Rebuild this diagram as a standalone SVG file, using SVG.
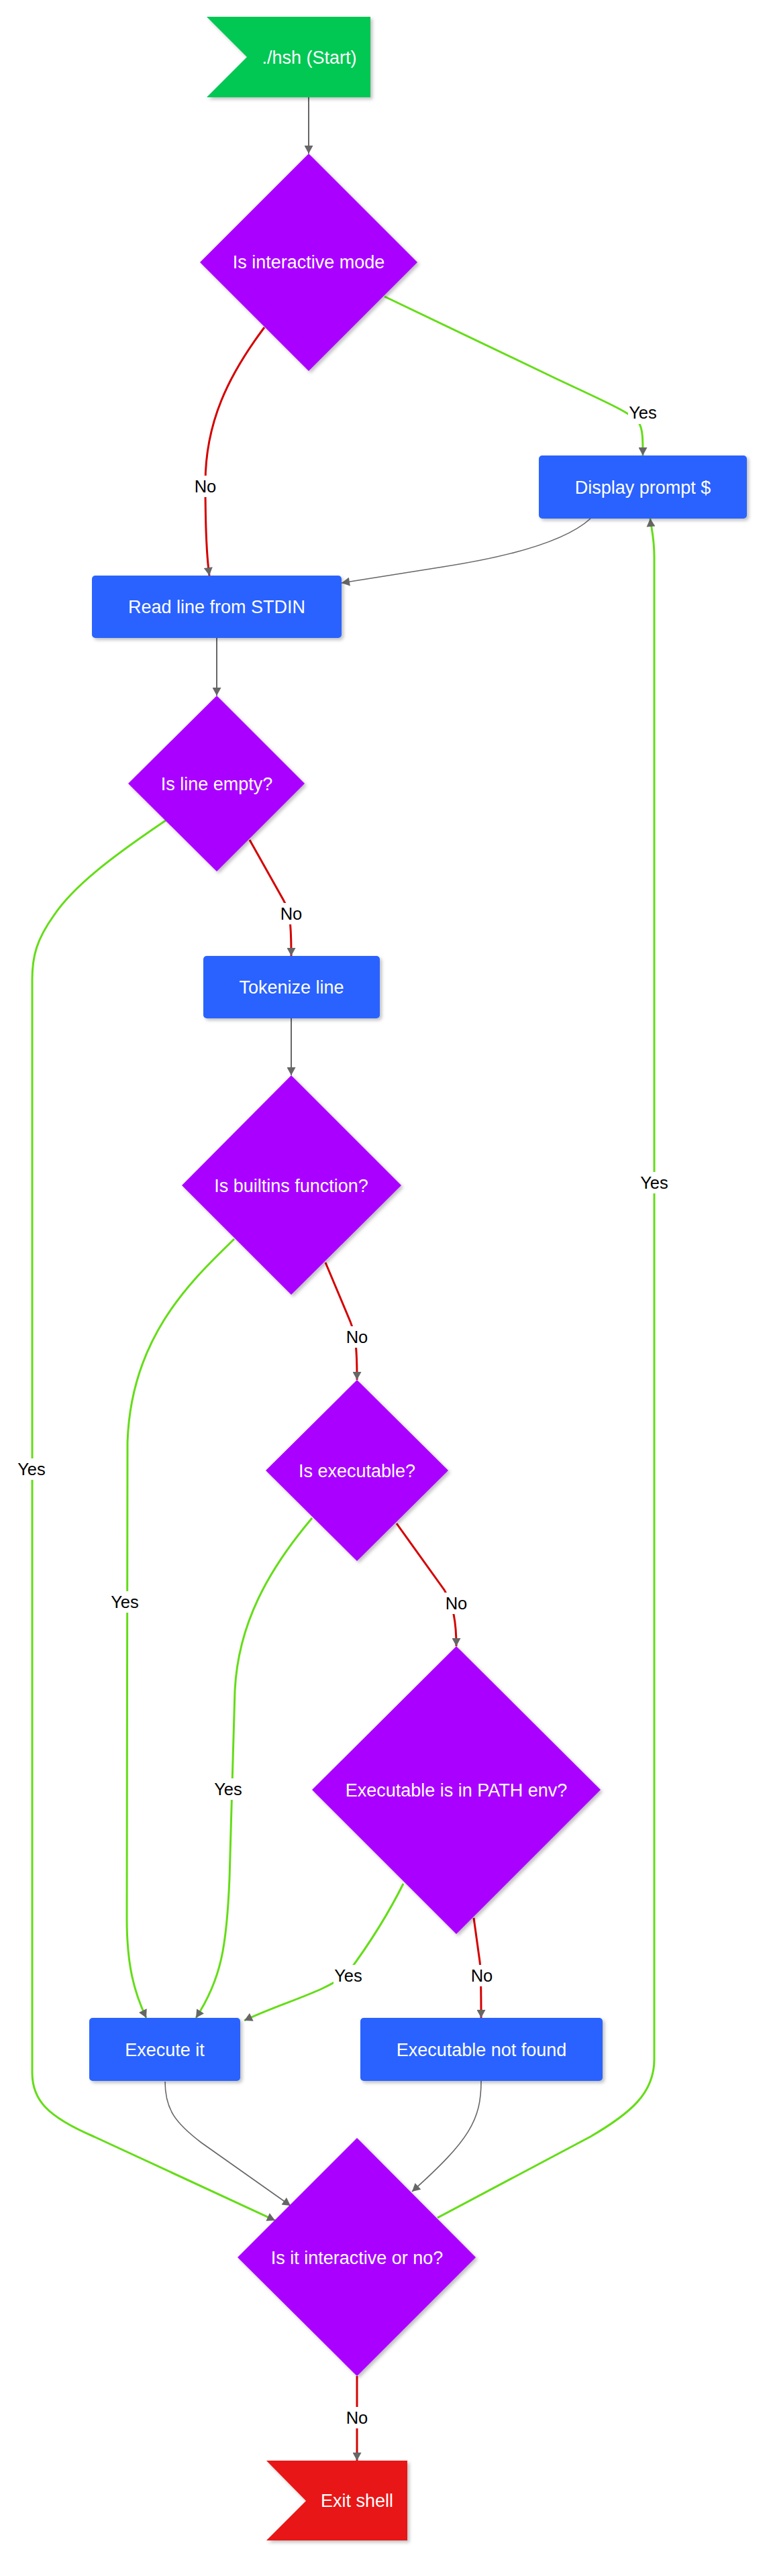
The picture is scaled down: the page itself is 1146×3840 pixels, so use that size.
<svg xmlns="http://www.w3.org/2000/svg" width="1146" height="3840" viewBox="0 0 1146 3840">
<style>
.nt{font-family:"Liberation Sans",Arial,sans-serif;font-size:27px;fill:#ffffff;text-anchor:middle}
.lt{font-family:"Liberation Sans",Arial,sans-serif;font-size:25.5px;fill:#000000;text-anchor:middle}
.lb{fill:#ffffff}
.box{fill:#2962ff}
.dia{fill:#aa00ff}
.e{fill:none;marker-end:url(#arr)}
.g{stroke:#666666;stroke-width:2}
.gt{stroke:#666666;stroke-width:1.6}
.y{stroke:#64dd17;stroke-width:3}
.n{stroke:#d50000;stroke-width:3}
.sh{filter:url(#ds)}
</style>
<defs>
<filter id="ds" x="-20%" y="-20%" width="140%" height="140%">
<feDropShadow dx="3" dy="3" stdDeviation="2.5" flood-color="#000000" flood-opacity="0.25"/>
</filter>
<marker id="arr" markerUnits="userSpaceOnUse" markerWidth="13" markerHeight="13" viewBox="0 0 12 13" refX="12" refY="6.5" orient="auto">
<path d="M0,0 L12,6.5 L0,13 z" fill="#666666"/>
</marker>
</defs>
<rect width="1146" height="3840" fill="#ffffff"/>

<g id="edges">
<path class="e g" d="M460,145 L460,229"/>
<path class="e y" d="M573,442 L830,565 C900,598 940,615 952,630 C958,640 958,655 958,679"/>
<path class="e n" d="M394,488 C340,560 306,630 306,720 C306,790 308,830 312,858"/>
<path class="e gt" d="M880,773 C845,805 770,828 660,845 L509,869"/>
<path class="e g" d="M323,951 L323,1037"/>
<path class="e n" d="M372,1252 L422,1341 C432,1358 434,1375 434,1425"/>
<path class="e y" d="M247,1223 C170,1275 110,1320 80,1365 C55,1400 48,1425 48,1460 L48,3090 C48,3130 70,3155 140,3185 L410,3310"/>
<path class="e g" d="M434,1518 L434,1603"/>
<path class="e n" d="M485,1882 L522,1970 C530,1990 532,2010 532,2057"/>
<path class="e y" d="M349,1847 C290,1905 195,1990 190,2150 L189,2860 C189,2930 200,2970 218,3008"/>
<path class="e n" d="M591,2271 L662,2370 C676,2392 680,2420 680,2454"/>
<path class="e y" d="M465,2263 C400,2340 355,2420 350,2520 L342,2800 C338,2900 330,2950 292,3008"/>
<path class="e y" d="M601,2808 C575,2860 545,2905 519,2940 C490,2968 420,2985 364,3012"/>
<path class="e n" d="M706,2859 L715,2924 C717,2940 717,2960 717,3008"/>
<path class="e gt" d="M246,3103 C246,3145 262,3165 300,3194 L433,3288"/>
<path class="e gt" d="M717,3102 C717,3160 700,3190 614,3267"/>
<path class="e y" d="M652,3306 L880,3185 C940,3150 975,3120 975,3070 L975,830 C975,800 970,785 969,773"/>
<path class="e n" d="M532,3542 L532,3668"/>

<g id="edge-labels">
<rect class="lb" x="936" y="600" width="44" height="32"/><text class="lt" x="958" y="624">Yes</text>
<rect class="lb" x="289" y="709" width="34" height="32"/><text class="lt" x="306" y="734">No</text>
<rect class="lb" x="417" y="1346" width="34" height="32"/><text class="lt" x="434" y="1371">No</text>
<rect class="lb" x="25" y="2174" width="44" height="32"/><text class="lt" x="47" y="2199">Yes</text>
<rect class="lb" x="515" y="1977" width="34" height="32"/><text class="lt" x="532" y="2002">No</text>
<rect class="lb" x="164" y="2372" width="44" height="32"/><text class="lt" x="186" y="2397">Yes</text>
<rect class="lb" x="663" y="2374" width="34" height="32"/><text class="lt" x="680" y="2399">No</text>
<rect class="lb" x="318" y="2651" width="44" height="32"/><text class="lt" x="340" y="2676">Yes</text>
<rect class="lb" x="497" y="2929" width="44" height="32"/><text class="lt" x="519" y="2954">Yes</text>
<rect class="lb" x="701" y="2929" width="34" height="32"/><text class="lt" x="718" y="2954">No</text>
<rect class="lb" x="953" y="1747" width="44" height="32"/><text class="lt" x="975" y="1772">Yes</text>
<rect class="lb" x="515" y="3588" width="34" height="32"/><text class="lt" x="532" y="3613">No</text>
</g>
</g>

<g id="start">
<polygon class="sh" points="308,25 552,25 552,145 308,145 368,85" fill="#00c853"/>
<text class="nt" x="461" y="94.5">./hsh (Start)</text>
</g>
<g id="interactive">
<polygon class="dia sh" points="460,229 622,391 460,553 298,391"/>
<text class="nt" x="460" y="400">Is interactive mode</text>
</g>
<g id="prompt">
<rect class="box sh" x="803" y="679" width="310" height="94" rx="5"/>
<text class="nt" x="958" y="735.5">Display prompt $</text>
</g>
<g id="readline">
<rect class="box sh" x="137" y="858" width="372" height="93" rx="5"/>
<text class="nt" x="323" y="914">Read line from STDIN</text>
</g>
<g id="empty">
<polygon class="dia sh" points="323,1037 454,1168 323,1299 191,1168"/>
<text class="nt" x="323" y="1177.5">Is line empty?</text>
</g>
<g id="tokenize">
<rect class="box sh" x="303" y="1425" width="263" height="93" rx="5"/>
<text class="nt" x="434.5" y="1481">Tokenize line</text>
</g>
<g id="builtins">
<polygon class="dia sh" points="434,1603 598,1767 434,1930 271,1767"/>
<text class="nt" x="434" y="1776.5">Is builtins function?</text>
</g>
<g id="executable">
<polygon class="dia sh" points="532,2057 668,2192 532,2327 396,2192"/>
<text class="nt" x="532" y="2201.5">Is executable?</text>
</g>
<g id="path">
<polygon class="dia sh" points="680,2454 895,2668 680,2883 465,2668"/>
<text class="nt" x="680" y="2677.5">Executable is in PATH env?</text>
</g>
<g id="execute">
<rect class="box sh" x="133" y="3008" width="225" height="94" rx="5"/>
<text class="nt" x="245.5" y="3064.5">Execute it</text>
</g>
<g id="notfound">
<rect class="box sh" x="537" y="3008" width="361" height="94" rx="5"/>
<text class="nt" x="717.5" y="3064.5">Executable not found</text>
</g>
<g id="again">
<polygon class="dia sh" points="532,3187 709,3365 532,3542 354,3365"/>
<text class="nt" x="532" y="3374.5">Is it interactive or no?</text>
</g>
<g id="exit">
<polygon class="sh" points="397,3668 607,3668 607,3787 397,3787 456,3728" fill="#e81717"/>
<text class="nt" x="532" y="3737">Exit shell</text>
</g>
</svg>
